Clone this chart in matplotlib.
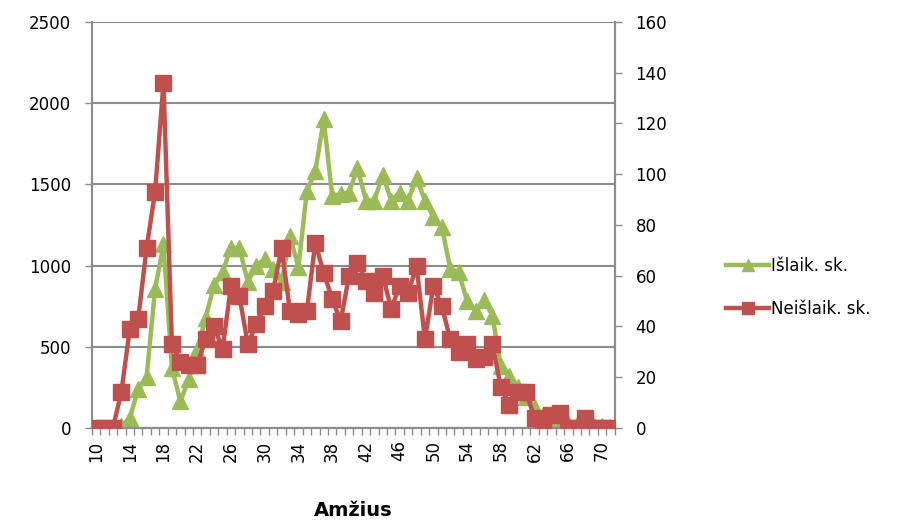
import matplotlib
matplotlib.use("Agg")
import matplotlib.pyplot as plt
import numpy as np

ages = list(range(10, 72))
islaik = [0, 0, 0, 10, 60, 240, 315, 855, 1130, 370,
          165, 300, 480, 680, 880, 960, 1110, 1110, 900, 1000,
          1040, 980, 900, 1180, 990, 1460, 1580, 1900, 1430, 1440,
          1450, 1600, 1400, 1400, 1560, 1400, 1450, 1400, 1540, 1400,
          1300, 1240, 980, 960, 780, 720, 790, 690, 380, 320,
          250, 190, 120, 80, 60, 40, 30, 20, 20, 10,
          10, 5]
neislaik = [0, 0, 0, 14, 39, 43, 71, 93, 136, 33,
            26, 25, 25, 35, 40, 31, 56, 52, 33, 41,
            48, 54, 71, 46, 45, 46, 73, 61, 51, 42,
            60, 65, 58, 53, 60, 47, 56, 53, 64, 35,
            56, 48, 35, 30, 33, 27, 28, 33, 16, 9,
            14, 14, 4, 0, 5, 6, 0, 0, 4, 0,
            0, 0]
series_names = ["Išlaik. sk.", "Neišlaik. sk."]
left_ticks = [0, 500, 1000, 1500, 2000, 2500]
right_ticks = [0, 20, 40, 60, 80, 100, 120, 140, 160]

GREEN = "#9BBB59"
RED = "#C0504D"
GRID = "#8C8C8C"

plt.rcParams["font.family"] = ["DejaVu Sans"]
fig = plt.figure(figsize=(9, 5.3), dpi=100)
ax = fig.add_axes([0.102, 0.1925, 0.581, 0.766])
ax2 = ax.twinx()

x = np.arange(len(ages))
ax.plot(x, islaik, color=GREEN, lw=3.2, marker="^", ms=12, mec=GREEN, mfc=GREEN,
        label=series_names[0], zorder=3)
ax2.plot(x, neislaik, color=RED, lw=3.2, marker="s", ms=12, mec=RED, mfc=RED,
         label=series_names[1], zorder=3)

ax.set_xlim(-0.5, len(ages) - 0.5)
ax.set_ylim(0, 2500)
ax2.set_ylim(0, 160)
ax.set_yticks(left_ticks)
ax2.set_yticks(right_ticks)
ax.yaxis.grid(True, color=GRID, lw=1.5)
ax.set_axisbelow(True)

lab_idx = [i for i, a in enumerate(ages) if (a - 10) % 4 == 0]
ax.set_xticks(lab_idx)
ax.set_xticklabels([str(ages[i]) for i in lab_idx], rotation=90)
ax.set_xticks(np.arange(-0.5, len(ages), 1), minor=True)
ax.tick_params(axis="x", which="major", length=0, pad=9, labelsize=12)
ax.tick_params(axis="x", which="minor", length=5, color=GRID, width=1)
ax.tick_params(axis="y", length=5, color=GRID, width=1, labelsize=12, pad=10)
ax2.tick_params(axis="y", length=5, color=GRID, width=1, labelsize=12, pad=10)

for a in (ax, ax2):
    a.spines["top"].set_visible(False)
    for s in ("left", "right", "bottom"):
        a.spines[s].set_color(GRID)
        a.spines[s].set_linewidth(1.5)

ax.set_xlabel("Amžius", fontsize=14, fontweight="bold", labelpad=28)

h1, l1 = ax.get_legend_handles_labels()
h2, l2 = ax2.get_legend_handles_labels()
fig.legend(h1 + h2, l1 + l2, loc="center left", bbox_to_anchor=(0.79, 0.458),
           frameon=False, fontsize=12, handlelength=2.6, handletextpad=0.1,
           labelspacing=1.5, markerscale=0.75)

fig.savefig("out.png", dpi=100)
